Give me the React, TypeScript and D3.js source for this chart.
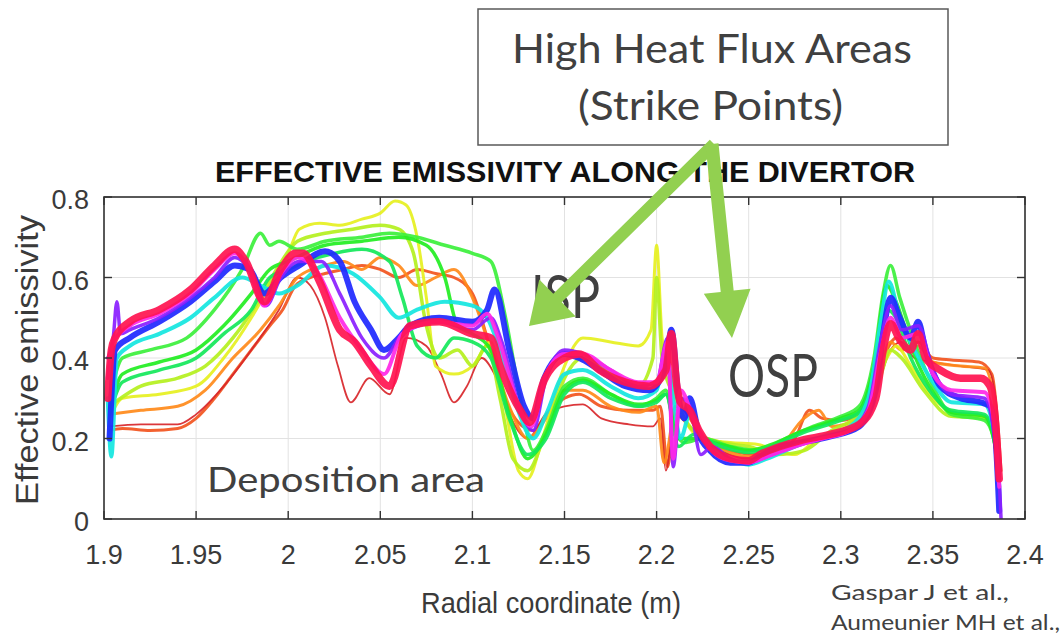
import React from "react";
import * as d3 from "d3";

type Pt = [number, number];

const X_TICKS = [1.9, 1.95, 2, 2.05, 2.1, 2.15, 2.2, 2.25, 2.3, 2.35, 2.4];
const Y_TICKS = [0, 0.2, 0.4, 0.6, 0.8];

const TITLE = "EFFECTIVE EMISSIVITY ALONG THE DIVERTOR";
const X_LABEL = "Radial coordinate (m)";
const Y_LABEL = "Effective emissivity";

// radial coordinate (m), effective emissivity
const orangeLow: Pt[] = [[1.903,0.22],[1.91,0.225],[1.925,0.22],[1.94,0.225],[1.95,0.25],[1.96,0.30],[1.97,0.36],[1.98,0.42],[1.99,0.48],[1.997,0.52],[2.004,0.58],[2.012,0.60],[2.02,0.61],[2.03,0.62],[2.04,0.63],[2.05,0.62],[2.06,0.60],[2.07,0.62],[2.08,0.61],[2.09,0.60],[2.1,0.56],[2.108,0.45],[2.115,0.33],[2.125,0.24],[2.133,0.22],[2.14,0.26],[2.15,0.30],[2.158,0.31],[2.17,0.28],[2.185,0.27],[2.198,0.27],[2.202,0.28],[2.206,0.13],[2.21,0.28],[2.215,0.27],[2.225,0.20],[2.24,0.17],[2.255,0.16],[2.268,0.17],[2.275,0.20],[2.283,0.27],[2.29,0.25],[2.3,0.245],[2.31,0.26],[2.318,0.33],[2.325,0.42],[2.33,0.45],[2.336,0.42],[2.342,0.44],[2.35,0.40],[2.36,0.395],[2.375,0.39],[2.382,0.36],[2.385,0.25],[2.387,0.12]];

const darkRed: Pt[] = [[1.903,0.23],[1.92,0.235],[1.94,0.235],[1.95,0.26],[1.965,0.33],[1.98,0.42],[1.995,0.52],[2.005,0.60],[2.012,0.58],[2.02,0.50],[2.027,0.38],[2.034,0.29],[2.044,0.35],[2.055,0.31],[2.064,0.45],[2.075,0.43],[2.083,0.36],[2.09,0.29],[2.097,0.33],[2.105,0.40],[2.112,0.36],[2.12,0.26],[2.13,0.20],[2.14,0.26],[2.15,0.28],[2.16,0.285],[2.17,0.25],[2.185,0.235],[2.198,0.23],[2.202,0.25],[2.205,0.12],[2.21,0.26],[2.22,0.22],[2.235,0.17],[2.25,0.15],[2.265,0.165],[2.28,0.19],[2.295,0.21],[2.31,0.24],[2.32,0.33],[2.327,0.42],[2.333,0.44],[2.34,0.40],[2.35,0.39],[2.365,0.38],[2.38,0.37],[2.384,0.30],[2.387,0.12]];

const orangeMid: Pt[] = [[1.903,0.26],[1.92,0.27],[1.94,0.28],[1.955,0.32],[1.97,0.40],[1.985,0.47],[1.995,0.53],[2.005,0.60],[2.02,0.63],[2.03,0.64],[2.04,0.62],[2.05,0.65],[2.06,0.63],[2.07,0.58],[2.08,0.60],[2.09,0.62],[2.1,0.55],[2.11,0.42],[2.12,0.28],[2.13,0.20],[2.14,0.25],[2.15,0.32],[2.16,0.32],[2.175,0.28],[2.19,0.265],[2.2,0.28],[2.204,0.14],[2.21,0.26],[2.22,0.22],[2.235,0.175],[2.25,0.155],[2.265,0.17],[2.28,0.25],[2.288,0.27],[2.295,0.23],[2.31,0.25],[2.32,0.35],[2.327,0.44],[2.333,0.42],[2.342,0.43],[2.35,0.39],[2.365,0.38],[2.378,0.375],[2.383,0.30],[2.386,0.15]];

const yellow: Pt[] = [[1.903,0.25],[1.91,0.30],[1.93,0.31],[1.95,0.33],[1.965,0.40],[1.98,0.50],[1.99,0.58],[2.0,0.66],[2.006,0.72],[2.017,0.735],[2.028,0.73],[2.04,0.745],[2.05,0.76],[2.058,0.79],[2.064,0.78],[2.07,0.70],[2.075,0.55],[2.08,0.38],[2.09,0.36],[2.1,0.38],[2.11,0.44],[2.117,0.30],[2.125,0.12],[2.13,0.10],[2.138,0.20],[2.15,0.38],[2.16,0.45],[2.175,0.44],[2.19,0.43],[2.197,0.47],[2.2,0.68],[2.203,0.45],[2.208,0.35],[2.215,0.25],[2.225,0.20],[2.24,0.19],[2.255,0.185],[2.265,0.17],[2.275,0.16],[2.285,0.19],[2.3,0.22],[2.315,0.28],[2.325,0.40],[2.33,0.43],[2.338,0.38],[2.35,0.30],[2.365,0.26],[2.38,0.25],[2.384,0.18],[2.386,0.10]];

const yellowGreen: Pt[] = [[1.903,0.28],[1.92,0.33],[1.94,0.35],[1.955,0.38],[1.97,0.45],[1.985,0.55],[1.995,0.63],[2.005,0.69],[2.02,0.71],[2.035,0.72],[2.05,0.73],[2.06,0.72],[2.068,0.66],[2.075,0.48],[2.082,0.40],[2.092,0.42],[2.1,0.38],[2.108,0.43],[2.115,0.30],[2.122,0.15],[2.13,0.12],[2.14,0.22],[2.15,0.35],[2.16,0.40],[2.175,0.36],[2.19,0.33],[2.198,0.40],[2.2,0.60],[2.203,0.40],[2.21,0.30],[2.22,0.22],[2.235,0.19],[2.25,0.18],[2.265,0.16],[2.28,0.17],[2.295,0.22],[2.31,0.26],[2.32,0.33],[2.327,0.42],[2.333,0.40],[2.345,0.32],[2.36,0.255],[2.378,0.25],[2.383,0.20],[2.386,0.12]];

const greenHigh: Pt[] = [[1.903,0.30],[1.91,0.40],[1.925,0.42],[1.945,0.45],[1.96,0.52],[1.975,0.62],[1.985,0.71],[1.99,0.68],[1.995,0.69],[2.005,0.67],[2.02,0.69],[2.04,0.70],[2.055,0.71],[2.07,0.70],[2.085,0.68],[2.1,0.66],[2.11,0.64],[2.118,0.50],[2.126,0.30],[2.133,0.17],[2.14,0.22],[2.15,0.33],[2.16,0.35],[2.175,0.31],[2.19,0.28],[2.2,0.30],[2.205,0.32],[2.21,0.22],[2.215,0.19],[2.225,0.20],[2.24,0.18],[2.255,0.17],[2.27,0.20],[2.285,0.23],[2.3,0.255],[2.31,0.28],[2.318,0.40],[2.323,0.56],[2.327,0.63],[2.332,0.55],[2.34,0.44],[2.35,0.33],[2.36,0.26],[2.378,0.245],[2.383,0.20],[2.386,0.12]];

const greenMid: Pt[] = [[1.903,0.27],[1.91,0.36],[1.93,0.39],[1.95,0.42],[1.965,0.48],[1.98,0.56],[1.99,0.62],[2.0,0.64],[2.02,0.68],[2.04,0.69],[2.06,0.70],[2.075,0.68],[2.085,0.60],[2.092,0.48],[2.1,0.46],[2.11,0.42],[2.12,0.26],[2.13,0.15],[2.14,0.21],[2.15,0.32],[2.16,0.345],[2.175,0.31],[2.19,0.285],[2.2,0.295],[2.205,0.31],[2.212,0.20],[2.22,0.20],[2.235,0.185],[2.25,0.17],[2.265,0.19],[2.28,0.22],[2.3,0.25],[2.31,0.27],[2.318,0.38],[2.325,0.58],[2.33,0.54],[2.338,0.43],[2.348,0.33],[2.36,0.265],[2.378,0.255],[2.383,0.20],[2.386,0.12]];

const greenLow: Pt[] = [[1.903,0.26],[1.91,0.34],[1.93,0.37],[1.95,0.40],[1.965,0.46],[1.98,0.52],[1.99,0.60],[2.0,0.62],[2.01,0.64],[2.025,0.66],[2.04,0.67],[2.055,0.64],[2.062,0.55],[2.07,0.43],[2.08,0.40],[2.09,0.45],[2.1,0.44],[2.11,0.40],[2.12,0.25],[2.13,0.16],[2.14,0.20],[2.15,0.31],[2.16,0.34],[2.175,0.30],[2.19,0.28],[2.2,0.29],[2.205,0.31],[2.212,0.18],[2.22,0.21],[2.235,0.18],[2.25,0.165],[2.265,0.185],[2.28,0.215],[2.3,0.245],[2.31,0.265],[2.318,0.36],[2.325,0.52],[2.33,0.50],[2.338,0.40],[2.348,0.32],[2.36,0.27],[2.378,0.26],[2.383,0.21],[2.386,0.13]];

const cyan: Pt[] = [[1.902,0.30],[1.904,0.155],[1.907,0.40],[1.914,0.43],[1.93,0.46],[1.947,0.50],[1.96,0.55],[1.975,0.60],[1.985,0.58],[1.995,0.56],[2.005,0.58],[2.02,0.63],[2.035,0.61],[2.05,0.55],[2.06,0.50],[2.07,0.52],[2.085,0.54],[2.1,0.53],[2.108,0.50],[2.115,0.42],[2.124,0.28],[2.133,0.20],[2.14,0.26],[2.15,0.36],[2.16,0.37],[2.175,0.33],[2.19,0.30],[2.2,0.32],[2.205,0.42],[2.209,0.30],[2.213,0.20],[2.218,0.26],[2.225,0.20],[2.24,0.15],[2.25,0.135],[2.26,0.15],[2.275,0.18],[2.29,0.205],[2.305,0.23],[2.315,0.30],[2.322,0.50],[2.326,0.59],[2.332,0.50],[2.34,0.42],[2.35,0.34],[2.36,0.29],[2.378,0.285],[2.383,0.22],[2.386,0.10]];

const blue: Pt[] = [[1.903,0.20],[1.906,0.42],[1.914,0.45],[1.93,0.49],[1.947,0.54],[1.96,0.59],[1.971,0.63],[1.979,0.62],[1.987,0.56],[1.996,0.60],[2.006,0.63],[2.02,0.665],[2.028,0.64],[2.036,0.54],[2.045,0.47],[2.052,0.42],[2.06,0.45],[2.066,0.48],[2.082,0.50],[2.1,0.49],[2.108,0.52],[2.112,0.57],[2.12,0.42],[2.128,0.28],[2.133,0.25],[2.139,0.35],[2.15,0.41],[2.158,0.40],[2.169,0.37],[2.183,0.33],[2.196,0.32],[2.205,0.38],[2.208,0.47],[2.212,0.30],[2.215,0.25],[2.218,0.30],[2.223,0.21],[2.229,0.17],[2.24,0.14],[2.25,0.14],[2.256,0.155],[2.267,0.18],[2.278,0.19],[2.294,0.205],[2.31,0.23],[2.319,0.32],[2.323,0.46],[2.327,0.55],[2.332,0.50],[2.338,0.45],[2.342,0.49],[2.346,0.42],[2.354,0.33],[2.365,0.30],[2.376,0.29],[2.381,0.28],[2.384,0.20],[2.386,0.02]];

const purple: Pt[] = [[1.902,0.40],[1.905,0.45],[1.907,0.54],[1.909,0.46],[1.914,0.47],[1.93,0.50],[1.947,0.55],[1.96,0.60],[1.971,0.65],[1.979,0.62],[1.988,0.53],[1.996,0.60],[2.006,0.64],[2.018,0.64],[2.028,0.56],[2.04,0.45],[2.052,0.40],[2.062,0.46],[2.082,0.49],[2.1,0.47],[2.11,0.50],[2.116,0.44],[2.126,0.27],[2.133,0.22],[2.14,0.35],[2.15,0.42],[2.16,0.41],[2.175,0.37],[2.19,0.33],[2.2,0.34],[2.206,0.45],[2.209,0.13],[2.213,0.30],[2.218,0.28],[2.224,0.16],[2.23,0.18],[2.24,0.15],[2.25,0.14],[2.26,0.155],[2.275,0.18],[2.29,0.20],[2.305,0.22],[2.315,0.28],[2.322,0.45],[2.327,0.53],[2.333,0.47],[2.342,0.48],[2.35,0.37],[2.36,0.31],[2.378,0.30],[2.383,0.22],[2.386,0.10],[2.387,0.0]];

const magenta: Pt[] = [[1.902,0.35],[1.905,0.44],[1.914,0.48],[1.93,0.51],[1.947,0.56],[1.96,0.62],[1.971,0.66],[1.978,0.63],[1.987,0.53],[1.996,0.61],[2.005,0.65],[2.015,0.62],[2.028,0.50],[2.04,0.42],[2.052,0.36],[2.062,0.46],[2.08,0.49],[2.1,0.48],[2.108,0.51],[2.114,0.45],[2.125,0.28],[2.132,0.23],[2.14,0.36],[2.15,0.41],[2.16,0.41],[2.175,0.37],[2.19,0.34],[2.2,0.34],[2.206,0.44],[2.209,0.15],[2.213,0.32],[2.22,0.25],[2.23,0.17],[2.24,0.145],[2.25,0.14],[2.26,0.155],[2.275,0.18],[2.29,0.20],[2.305,0.22],[2.315,0.27],[2.322,0.42],[2.327,0.50],[2.333,0.45],[2.342,0.46],[2.35,0.36],[2.36,0.32],[2.378,0.315],[2.383,0.25],[2.386,0.08]];

const red: Pt[] = [[1.902,0.30],[1.904,0.42],[1.906,0.45],[1.914,0.49],[1.93,0.52],[1.947,0.57],[1.96,0.63],[1.971,0.67],[1.977,0.64],[1.987,0.54],[1.996,0.62],[2.004,0.66],[2.008,0.66],[2.017,0.59],[2.028,0.47],[2.036,0.44],[2.045,0.38],[2.055,0.33],[2.066,0.48],[2.082,0.49],[2.1,0.46],[2.11,0.45],[2.115,0.38],[2.126,0.27],[2.131,0.24],[2.139,0.345],[2.15,0.40],[2.158,0.41],[2.169,0.37],[2.183,0.34],[2.196,0.33],[2.205,0.37],[2.208,0.46],[2.211,0.33],[2.213,0.29],[2.218,0.27],[2.223,0.22],[2.229,0.18],[2.24,0.15],[2.25,0.145],[2.256,0.16],[2.267,0.18],[2.278,0.195],[2.294,0.21],[2.31,0.235],[2.319,0.30],[2.323,0.42],[2.327,0.485],[2.332,0.445],[2.338,0.42],[2.342,0.46],[2.346,0.40],[2.354,0.37],[2.365,0.35],[2.376,0.35],[2.381,0.33],[2.384,0.24],[2.386,0.10]];

const SERIES: { data: Pt[]; color: string; width: number }[] = [
  { data: orangeLow, color: "#f2541e", width: 3 },
  { data: darkRed, color: "#d8262a", width: 1.8 },
  { data: orangeMid, color: "#ff8a1a", width: 3 },
  { data: yellow, color: "#e6f020", width: 3 },
  { data: yellowGreen, color: "#b4f01e", width: 3.5 },
  { data: greenHigh, color: "#3cf03c", width: 3.5 },
  { data: greenMid, color: "#22ee22", width: 3.5 },
  { data: greenLow, color: "#14e85a", width: 3.5 },
  { data: cyan, color: "#14e6e0", width: 4 },
  { data: blue, color: "#1e28ff", width: 6 },
  { data: purple, color: "#8a1eff", width: 3.5 },
  { data: magenta, color: "#ff28e6", width: 4 },
  { data: red, color: "#ff1450", width: 7.5 },
];

const W = 1063;
const H = 634;
const L = 104, R = 1025, T = 197, B = 519;

const x = d3.scaleLinear().domain([1.9, 2.4]).range([L, R]);
const y = d3.scaleLinear().domain([0, 0.8]).range([B, T]);

const line = d3
  .line<Pt>()
  .x((d) => x(d[0]))
  .y((d) => y(d[1]))
  .curve(d3.curveMonotoneX);

function arrowPoints(x0: number, y0: number, x1: number, y1: number, shaft: number, headW: number, headL: number) {
  const dx = x1 - x0, dy = y1 - y0;
  const len = Math.hypot(dx, dy);
  const ux = dx / len, uy = dy / len;
  const px = -uy, py = ux;
  const bx = x1 - ux * headL, by = y1 - uy * headL;
  const s = shaft / 2, h = headW / 2;
  const pts: [number, number][] = [
    [x0 + px * s, y0 + py * s],
    [bx + px * s, by + py * s],
    [bx + px * h, by + py * h],
    [x1, y1],
    [bx - px * h, by - py * h],
    [bx - px * s, by - py * s],
    [x0 - px * s, y0 - py * s],
  ];
  return pts.map((p) => p.join(",")).join(" ");
}

const fmt = (v: number) => String(v);

export default function App() {
  const axisFont = "'Liberation Sans', Arial, Helvetica, sans-serif";
  const noteFont = "Lato, 'Open Sans', sans-serif";
  return (
    <svg
      width={W}
      height={H}
      style={{ position: "absolute", left: 0, top: 0, background: "#fff" }}
    >
      <rect x={0} y={0} width={W} height={H} fill="#fff" />
      <defs>
        <clipPath id="plotClip">
          <rect x={L} y={T} width={R - L} height={B - T} />
        </clipPath>
      </defs>
      {X_TICKS.map((t) => (
        <line key={"gx" + t} x1={x(t)} x2={x(t)} y1={T} y2={B} stroke="#e2e2e2" strokeWidth={1} />
      ))}
      {Y_TICKS.map((t) => (
        <line key={"gy" + t} x1={L} x2={R} y1={y(t)} y2={y(t)} stroke="#e2e2e2" strokeWidth={1} />
      ))}
      <g clipPath="url(#plotClip)">
        {SERIES.map((s, i) => (
          <path
            key={i}
            d={line(s.data) || ""}
            fill="none"
            stroke={s.color}
            strokeWidth={s.width}
            strokeLinejoin="round"
            strokeLinecap="round"
            opacity={0.92}
          />
        ))}
      </g>
      <rect x={L} y={T} width={R - L} height={B - T} fill="none" stroke="#333" strokeWidth={1.6} />
      {X_TICKS.map((t) => (
        <g key={"tx" + t}>
          <line x1={x(t)} x2={x(t)} y1={B} y2={B - 8} stroke="#333" strokeWidth={1.4} />
          <line x1={x(t)} x2={x(t)} y1={T} y2={T + 8} stroke="#333" strokeWidth={1.4} />
          <text x={x(t)} y={564} textAnchor="middle" fontFamily={axisFont} fontSize={27} fill="#3a3a3a">
            {fmt(t)}
          </text>
        </g>
      ))}
      {Y_TICKS.map((t) => (
        <g key={"ty" + t}>
          <line x1={L} x2={L + 8} y1={y(t)} y2={y(t)} stroke="#333" strokeWidth={1.4} />
          <line x1={R} x2={R - 8} y1={y(t)} y2={y(t)} stroke="#333" strokeWidth={1.4} />
          <text x={89} y={y(t) + 12} textAnchor="end" fontFamily={axisFont} fontSize={27} fill="#3a3a3a">
            {fmt(t)}
          </text>
        </g>
      ))}
      <text x={421} y={613} fontFamily={axisFont} fontSize={30} fill="#3a3a3a" textLength={260} lengthAdjust="spacingAndGlyphs">
        {X_LABEL}
      </text>
      <text
        transform="translate(38,505) rotate(-90)"
        x={0}
        y={0}
        fontFamily={axisFont}
        fontSize={31}
        fill="#3a3a3a"
        textLength={290}
        lengthAdjust="spacingAndGlyphs"
      >
        {Y_LABEL}
      </text>
      <text x={215} y={182} fontFamily={axisFont} fontWeight="bold" fontSize={30} fill="#111" textLength={700} lengthAdjust="spacingAndGlyphs">
        {TITLE}
      </text>
      <text x={531} y={318} fontFamily={noteFont} fontSize={60} fill="#404040" textLength={69} lengthAdjust="spacingAndGlyphs">
        ISP
      </text>
      <text x={728} y={397} fontFamily={noteFont} fontSize={60} fill="#404040" textLength={90} lengthAdjust="spacingAndGlyphs">
        OSP
      </text>
      <text x={207} y={492} fontFamily={noteFont} fontSize={35} fill="#404040" textLength={278} lengthAdjust="spacingAndGlyphs">
        Deposition area
      </text>
      <rect x={478} y={9} width={470} height={136} fill="#fff" stroke="#595959" strokeWidth={1.5} />
      <text x={512} y={63} fontFamily={noteFont} fontSize={41} fill="#404040" textLength={400} lengthAdjust="spacingAndGlyphs">
        High Heat Flux Areas
      </text>
      <text x={578} y={120} fontFamily={noteFont} fontSize={41} fill="#404040" textLength={265} lengthAdjust="spacingAndGlyphs">
        (Strike Points)
      </text>
      <polygon points={arrowPoints(714, 144, 529, 326, 12, 52, 40)} fill="#92d050" />
      <polygon points={arrowPoints(712, 144, 732, 338, 13, 47, 47)} fill="#92d050" />
      <text x={831} y={600} fontFamily={noteFont} fontSize={21} fill="#404040" textLength={178} lengthAdjust="spacingAndGlyphs">
        Gaspar J et al.,
      </text>
      <text x={831} y={630} fontFamily={noteFont} fontSize={21} fill="#404040" textLength={229} lengthAdjust="spacingAndGlyphs">
        Aumeunier MH et al.,
      </text>
    </svg>
  );
}
